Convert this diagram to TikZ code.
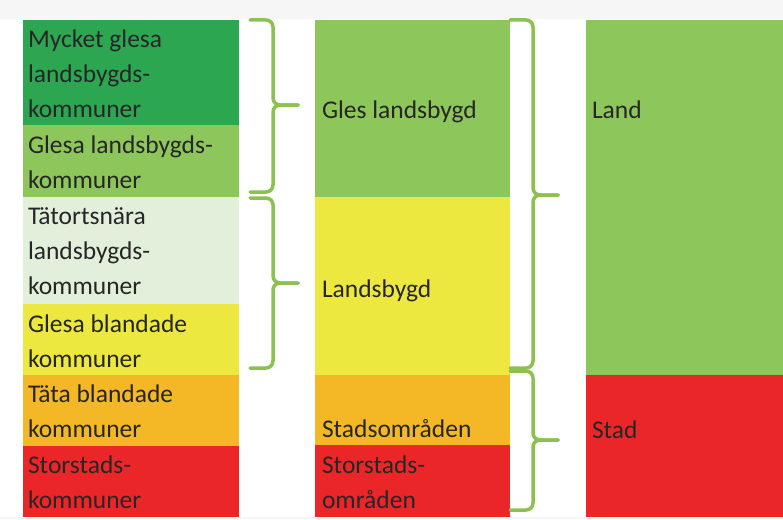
\documentclass[tikz,border=0pt]{standalone}
\usepackage{fontspec}
\setmainfont{Carlito}
\definecolor{bggrey}{HTML}{F6F6F6}
\definecolor{dkgreen}{HTML}{2DA652}
\definecolor{ltgreen}{HTML}{8DC65A}
\definecolor{palegreen}{HTML}{E2EFDA}
\definecolor{ylw}{HTML}{ECE840}
\definecolor{orng}{HTML}{F4B826}
\definecolor{rd}{HTML}{EA2628}
\definecolor{bracecol}{HTML}{8CC150}
\definecolor{txtcol}{HTML}{262626}
\tikzset{
  cell/.style={draw=none, inner sep=0pt, outer sep=0pt, anchor=north west},
  txt/.style={inner sep=0pt, outer sep=0pt, anchor=north west, align=left, text=txtcol,
    font=\fontsize{25.5}{35}\selectfont},
  brace/.style={draw=bracecol, line width=3.5pt, rounded corners=7pt, line cap=round}
}
\begin{document}
\begin{tikzpicture}[x=1pt,y=-1pt]
\useasboundingbox (0,0) rectangle (783,519);
\fill[bggrey] (0,0) rectangle (783,519);
\fill[white] (0,19) rectangle (783,517);
% left column
\node[cell, fill=dkgreen, minimum width=216pt, minimum height=105pt] (l1) at (23,20) {};
\node[cell, fill=ltgreen, minimum width=216pt, minimum height=72pt] (l2) at (23,125) {};
\node[cell, fill=palegreen, minimum width=216pt, minimum height=107pt] (l3) at (23,197) {};
\node[cell, fill=ylw, minimum width=216pt, minimum height=71pt] (l4) at (23,304) {};
\node[cell, fill=orng, minimum width=216pt, minimum height=71pt] (l5) at (23,375) {};
\node[cell, fill=rd, minimum width=216pt, minimum height=71pt] (l6) at (23,446) {};
% middle column
\node[cell, fill=ltgreen, minimum width=195pt, minimum height=177pt] (m1) at (315,20) {};
\node[cell, fill=ylw, minimum width=195pt, minimum height=178pt] (m2) at (315,197) {};
\node[cell, fill=orng, minimum width=195pt, minimum height=70pt] (m3) at (315,375) {};
\node[cell, fill=rd, minimum width=195pt, minimum height=72pt] (m4) at (315,445) {};
% right column
\node[cell, fill=ltgreen, minimum width=197pt, minimum height=355pt] (r1) at (586,20) {};
\node[cell, fill=rd, minimum width=197pt, minimum height=142pt] (r2) at (586,375) {};
% left texts
\node[txt] (tl1) at (28,22.5) {\strut Mycket glesa\\landsbygds-\\kommuner};
\node[txt] (tl2) at (28,128.5) {\strut Glesa landsbygds-\\kommuner};
\node[txt] (tl3) at (28,199.5) {\strut Tätortsnära\\landsbygds-\\kommuner};
\node[txt] (tl4) at (28,307.5) {\strut Glesa blandade\\kommuner};
\node[txt] (tl5) at (28,377.5) {\strut Täta blandade\\kommuner};
\node[txt] (tl6) at (28,448.5) {\strut Storstads-\\kommuner};
% middle texts
\node[txt] (tm1) at (322,93.5) {\strut Gles landsbygd};
\node[txt] (tm2) at (322,272.5) {\strut Landsbygd};
\node[txt] (tm3) at (322,412.5) {\strut Stadsområden};
\node[txt] (tm4) at (322,448.5) {\strut Storstads-\\områden};
% right texts
\node[txt] (tr1) at (592,93.5) {\strut Land};
\node[txt] (tr2) at (592,413.5) {\strut Stad};
% braces
\draw[brace] (250,20) -- (273,20) -- (273,105) -- (298,105);
\draw[brace] (298,105) -- (273,105) -- (273,192) -- (250,192);
\draw[brace] (250,198) -- (273,198) -- (273,283) -- (298,283);
\draw[brace] (298,283) -- (273,283) -- (273,368) -- (250,368);
\draw[brace] (510,20) -- (533,20) -- (533,195) -- (558,195);
\draw[brace] (558,195) -- (533,195) -- (533,368) -- (510,368);
\draw[brace] (510,371) -- (533,371) -- (533,440) -- (558,440);
\draw[brace] (558,440) -- (533,440) -- (533,510) -- (510,510);
\end{tikzpicture}
\end{document}
